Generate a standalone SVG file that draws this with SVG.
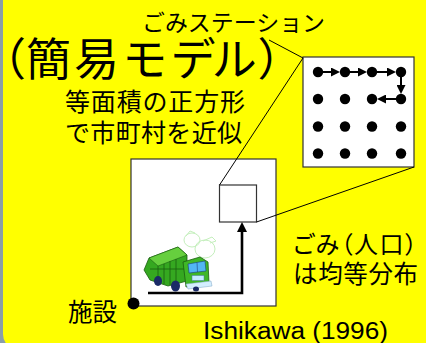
<svg xmlns="http://www.w3.org/2000/svg" width="426" height="343" viewBox="0 0 426 343">
  <defs>
    <style>
      .jp { font-family: "Noto Sans CJK JP", "Noto Sans", sans-serif; fill: #000; }
      .palt { font-feature-settings: "palt"; }
      .en { font-family: "Liberation Sans", Arial, sans-serif; fill: #000; }
      .box { fill: #fff; stroke: #333; stroke-width: 1.2; }
      .callout { stroke: #000; stroke-width: 1; fill: none; }
      .dot { fill: #000; }
      .step { stroke: #000; stroke-width: 2; fill: none; marker-end: url(#headSmall); }
      .route { stroke: #000; stroke-width: 2.6; fill: none; marker-end: url(#headLarge); }
    </style>
    <marker id="headSmall" markerUnits="userSpaceOnUse" markerWidth="9" markerHeight="9" refX="1" refY="4.5" orient="auto">
      <path d="M0,0 L9,4.5 L0,9 z" fill="#000"/>
    </marker>
    <marker id="headLarge" markerUnits="userSpaceOnUse" markerWidth="10" markerHeight="10" refX="1" refY="5" orient="auto">
      <path d="M0,0 L10,5 L0,10 z" fill="#000"/>
    </marker>
  </defs>

  <!-- slide background -->
  <rect x="0" y="0" width="426" height="343" fill="#8a9ea8"/>
  <rect x="3" y="-30" width="460" height="380" rx="16" fill="#ffff00"/>

  <!-- titles and notes -->
  <text class="jp" x="142" y="31" font-size="22.5" textLength="183" lengthAdjust="spacingAndGlyphs">ごみステーション</text>
  <text class="jp palt" x="2 26 74 124 172 214 259" y="76" font-size="45">（簡易モデル）</text>
  <text class="jp" x="65" y="111" font-size="25" textLength="180" lengthAdjust="spacing">等面積の正方形</text>
  <text class="jp" x="65" y="142" font-size="25" textLength="177" lengthAdjust="spacing">で市町村を近似</text>
  <text class="jp palt" x="293" y="253" font-size="24" textLength="124" lengthAdjust="spacing">ごみ（人口）</text>
  <text class="jp" x="293" y="283" font-size="24.5" textLength="125" lengthAdjust="spacing">は均等分布</text>
  <text class="jp" x="68" y="321" font-size="24.5">施設</text>
  <text class="en" x="203" y="338.5" font-size="23" textLength="185" lengthAdjust="spacingAndGlyphs">Ishikawa (1996)</text>

  <!-- municipality square -->
  <g id="municipality">
    <rect class="box" x="131" y="159" width="145" height="147"/>
  </g>

  <!-- one station cell inside the municipality -->
  <g id="station-cell">
    <rect class="box" x="219.5" y="185" width="37" height="37" stroke="#222"/>
  </g>

  <!-- enlarged station grid -->
  <g id="station-grid">
    <rect class="box" x="303" y="57" width="111" height="110"/>
    <g class="dot">
      <circle cx="318" cy="72" r="5.2"/><circle cx="345" cy="72" r="5.2"/><circle cx="372" cy="72" r="5.2"/><circle cx="401" cy="72" r="5.2"/>
      <circle cx="318" cy="99" r="5.2"/><circle cx="345" cy="99" r="5.2"/><circle cx="372" cy="99" r="5.2"/><circle cx="401" cy="99" r="5.2"/>
      <circle cx="318" cy="126.5" r="5.2"/><circle cx="345" cy="126.5" r="5.2"/><circle cx="372" cy="126.5" r="5.2"/><circle cx="401" cy="126.5" r="5.2"/>
      <circle cx="318" cy="153.5" r="5.2"/><circle cx="345" cy="153.5" r="5.2"/><circle cx="372" cy="153.5" r="5.2"/><circle cx="401" cy="153.5" r="5.2"/>
    </g>
  </g>

  <!-- facility -->
  <g id="facility">
    <circle class="dot" cx="133.5" cy="303.5" r="6"/>
  </g>

  <!-- collection truck -->
  <g id="truck">
    <g fill="none" stroke="#c4efbc" stroke-width="1">
      <ellipse cx="192" cy="240" rx="8" ry="7"/>
      <ellipse cx="205" cy="249" rx="10" ry="9"/>
      <path d="M203,241 L212,237 L216,241 L210,243"/>
      <path d="M186,236 L190,231 L195,233"/>
    </g>
    <polygon points="144,270 149,258 178,247 187,255 187,281 168,286 150,280" fill="#35a820" stroke="#1b5e10" stroke-width="0.8"/>
    <polygon points="149,258 178,247 187,255 158,266" fill="#66cf3e" stroke="#1b5e10" stroke-width="0.6"/>
    <g stroke="#1b5e10" stroke-width="0.8">
      <line x1="158" y1="266" x2="158" y2="282"/>
      <line x1="164" y1="264" x2="164" y2="284"/>
      <line x1="170" y1="261" x2="170" y2="285"/>
      <line x1="176" y1="259" x2="176" y2="285"/>
      <line x1="150" y1="269" x2="187" y2="269"/>
    </g>
    <polygon points="183,262 200,257 208,262 209,283 186,287" fill="#3fb726" stroke="#1b5e10" stroke-width="0.8"/>
    <polygon points="188,264 205,261 206,271 189,273" fill="#52b6f4" stroke="#1a3e7a" stroke-width="0.6"/>
    <line x1="197" y1="262.5" x2="197.5" y2="272" stroke="#1a3e7a" stroke-width="0.6"/>
    <rect x="192" y="275.5" width="12" height="5" fill="#c6ebff" stroke="#4a7aa0" stroke-width="0.5"/>
    <polygon points="186,284 211,281 212,286 188,289" fill="#d4eeff" stroke="#7fa6c4" stroke-width="0.5"/>
    <ellipse cx="158" cy="281" rx="4" ry="5" fill="#1b2a66"/>
    <ellipse cx="175.5" cy="286" rx="4.5" ry="5.5" fill="#1b2a66"/>
    <ellipse cx="196" cy="289" rx="3" ry="2.5" fill="#1b2a66"/>
  </g>

  <!-- connectors -->
  <g id="connectors">
    <line class="callout" x1="269" y1="40" x2="303" y2="58"/>
    <line class="callout" x1="303" y1="58" x2="219.5" y2="185"/>
    <line class="callout" x1="414" y1="167" x2="256.5" y2="222"/>
    <line class="step" x1="318" y1="72" x2="332" y2="72"/>
    <line class="step" x1="345" y1="72" x2="359" y2="72"/>
    <line class="step" x1="372" y1="72" x2="388" y2="72"/>
    <line class="step" x1="401" y1="72" x2="401" y2="86"/>
    <line class="step" x1="401" y1="99" x2="385" y2="99"/>
    <path class="route" d="M148,293 H242 V231"/>
  </g>
</svg>
